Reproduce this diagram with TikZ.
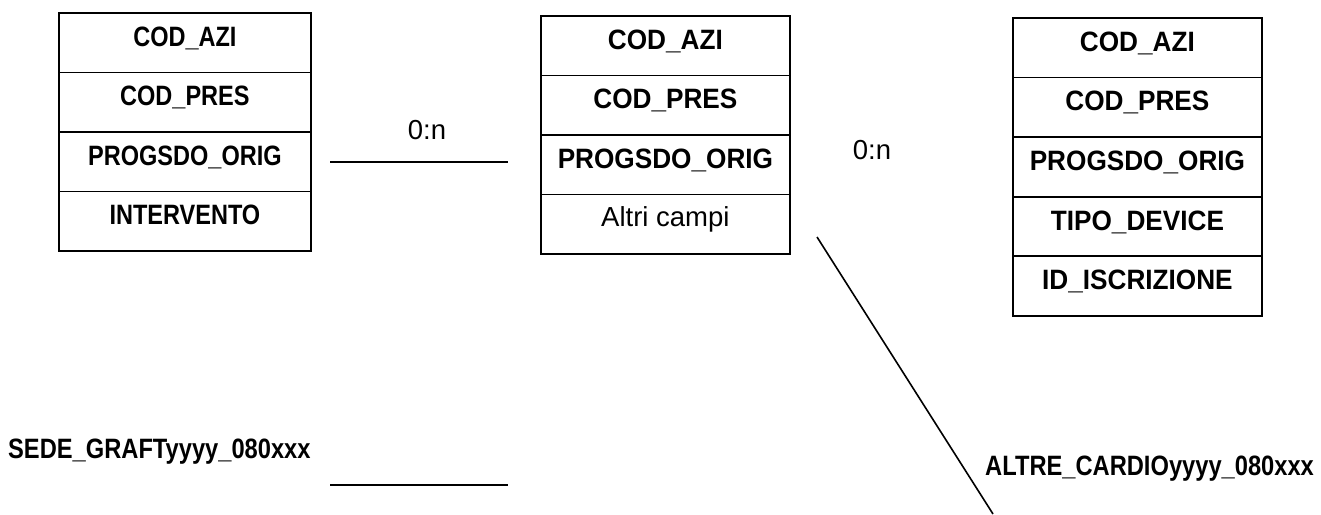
\documentclass[tikz,border=0pt]{standalone}
\usepackage{fontspec}
\setmainfont{Liberation Sans}
\newcommand{\sqA}[1]{\scalebox{0.84}[1]{#1}}
\newcommand{\sqB}[1]{\scalebox{0.935}[1]{#1}}
\newcommand{\sqL}[1]{\scalebox{0.846}[1]{#1}}
\begin{document}
\begin{tikzpicture}[x=1pt,y=-1pt,
  cell/.style={draw, line width=1.8pt, anchor=north west, inner sep=0pt,
    minimum height=59.5pt, text height=0.72em, text depth=0em,
    font=\fontsize{28}{32}\selectfont\bfseries},
  cellA/.style={cell, minimum width=252pt},
  cellB/.style={cell, minimum width=249pt},
  plaincell/.style={cellB, font=\fontsize{27.5}{32}\selectfont, text depth=0.2em},
  conn/.style={line width=1.6pt},
  card/.style={inner sep=0pt, font=\fontsize{27.5}{32}\selectfont},
  lbl/.style={inner sep=0pt, anchor=west, text height=0.72em, text depth=0pt,
    font=\fontsize{28}{32}\selectfont\bfseries}]
\useasboundingbox (0,0) rectangle (1321,514);
% Table 1
\node[cellA] (t1a) at (58,12) {\sqA{COD\_AZI}};
\node[cellA] (t1b) at (58,71.5) {\sqA{COD\_PRES}};
\node[cellA] (t1c) at (58,131) {\sqA{PROGSDO\_ORIG}};
\node[cellA] (t1d) at (58,190.5) {\sqA{INTERVENTO}};
% Table 2
\node[cellB] (t2a) at (540,15) {\sqB{COD\_AZI}};
\node[cellB] (t2b) at (540,74.5) {\sqB{COD\_PRES}};
\node[cellB] (t2c) at (540,134) {\sqB{PROGSDO\_ORIG}};
\node[plaincell] (t2d) at (540,193.5) {Altri campi};
% Table 3
\node[cellB, minimum height=59.6pt] (t3a) at (1012,17) {\sqB{COD\_AZI}};
\node[cellB, minimum height=59.6pt] (t3b) at (1012,76.6) {\sqB{COD\_PRES}};
\node[cellB, minimum height=59.6pt] (t3c) at (1012,136.2) {\sqB{PROGSDO\_ORIG}};
\node[cellB, minimum height=59.6pt] (t3d) at (1012,195.8) {\sqB{TIPO\_DEVICE}};
\node[cellB, minimum height=59.6pt] (t3e) at (1012,255.4) {\sqB{ID\_ISCRIZIONE}};
% Cardinalities
\node[card] (c1) at (427,130) {0:n};
\node[card] (c2) at (872,150) {0:n};
% Labels
\node[lbl] (sede) at (8,455) {\sqL{SEDE\_GRAFTyyyy\_080xxx}};
\node[lbl] (altre) at (985,472) {\sqL{ALTRE\_CARDIOyyyy\_080xxx}};
% Connector endpoints
\coordinate (l1s) at (330,162);
\coordinate (l1e) at (508,162);
\coordinate (l2s) at (330,485);
\coordinate (l2e) at (508,485);
\coordinate (l3s) at (817,237);
\coordinate (l3e) at (993,514);
\draw[conn] (l1s) -- (l1e);
\draw[conn] (l2s) -- (l2e);
\draw[conn] (l3s) -- (l3e);
\end{tikzpicture}
\end{document}
